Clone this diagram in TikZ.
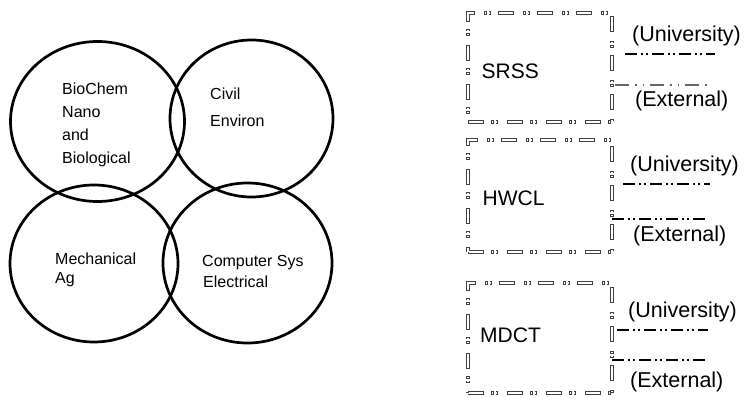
\documentclass[tikz,border=0pt]{standalone}
\usepackage{fontspec}
\setmainfont{Liberation Sans}
\usetikzlibrary{shapes.geometric}
\begin{document}
\begin{tikzpicture}[x=1pt,y=-1pt,
  ring/.style={ellipse, draw=black, line width=2.7pt, inner sep=0pt, outer sep=0pt},
  lbl/.style={anchor=base west, inner sep=0pt, font=\fontsize{16}{19}\selectfont},
  rlbl/.style={anchor=base west, inner sep=0pt, font=\fontsize{21}{25}\selectfont},
  tlbl/.style={anchor=base west, inner sep=0pt, font=\fontsize{21.5}{25}\selectfont},
  boxst/.style={rectangle, inner sep=0pt, outer sep=0pt, minimum width=144pt,
    draw=black!75, line width=3.2pt,
    dash pattern=on 16pt off 7pt on 2.5pt off 2pt on 2.5pt off 9pt,
    postaction={draw=white, line width=1.5pt,
      dash pattern=on 14.4pt off 8.6pt on 0.9pt off 3.6pt on 0.9pt off 10.6pt,
      dash phase=38.2pt}},
  uline/.style={line width=2pt, black, dash pattern=on 12pt off 4pt on 2pt off 3pt on 2pt off 4pt},
  eline/.style={line width=1.1pt, black!60, dash pattern=on 14pt off 6pt on 1.5pt off 6pt on 1.5pt off 6pt}
]
\fill[white] (0,0) rectangle (753,398);
\useasboundingbox (0,0) rectangle (753,398);

% circles
\node[ring, minimum width=174pt, minimum height=160pt] (c1) at (97.5,121.5) {};
\node[ring, minimum width=163pt, minimum height=157pt] (c2) at (251.5,118.5) {};
\node[ring, minimum width=168pt, minimum height=157pt] (c3) at (94,263.5) {};
\node[ring, minimum width=169pt, minimum height=160pt] (c4) at (247.5,263) {};

% circle texts
\node[lbl] (t1a) at (62,95) {BioChem};
\node[lbl] (t1b) at (62,118) {Nano};
\node[lbl] (t1c) at (62,141) {and};
\node[lbl] (t1d) at (62,164) {Biological};
\node[lbl] (t2a) at (210,100) {Civil};
\node[lbl] (t2b) at (210,126.5) {Environ};
\node[lbl] (t3a) at (55,265) {Mechanical};
\node[lbl] (t3b) at (55,284) {Ag};
\node[lbl] (t4a) at (202,266.5) {Computer Sys};
\node[lbl] (t4b) at (203,288) {Electrical};

% boxes
\node[boxst, minimum height=109pt] (b1) at (540,67.5) {};
\node[boxst, minimum height=112pt] (b2) at (540,196) {};
\node[boxst, minimum height=110pt] (b3) at (540,338) {};

\node[rlbl] (n1) at (481.5,78.5) {SRSS};
\node[rlbl] (n2) at (482.5,206) {HWCL};
\node[rlbl] (n3) at (480,343) {MDCT};

% side labels
\node[tlbl] (u1) at (632,41.5) {(University)};
\node[tlbl] (e1) at (635,106.5) {(External)};
\node[tlbl] (u2) at (630,171.5) {(University)};
\node[tlbl] (e2) at (633,241.5) {(External)};
\node[tlbl] (u3) at (628,318) {(University)};
\node[tlbl] (e3) at (630,388) {(External)};

% dash-dot lines
\coordinate (u1a) at (625,54);  \coordinate (u1b) at (715,54);
\coordinate (e1a) at (615,85);  \coordinate (e1b) at (710,85);
\coordinate (u2a) at (623,184); \coordinate (u2b) at (710,184);
\coordinate (e2a) at (612,219); \coordinate (e2b) at (708,219);
\coordinate (u3a) at (617,330); \coordinate (u3b) at (708,330);
\coordinate (e3a) at (612,360); \coordinate (e3b) at (707,360);
\draw[uline] (u1a) -- (u1b);
\draw[eline] (e1a) -- (e1b);
\draw[uline] (u2a) -- (u2b);
\draw[uline, line width=1.5pt] (e2a) -- (e2b);
\draw[uline] (u3a) -- (u3b);
\draw[uline, line width=1.5pt] (e3a) -- (e3b);
\end{tikzpicture}
\end{document}
